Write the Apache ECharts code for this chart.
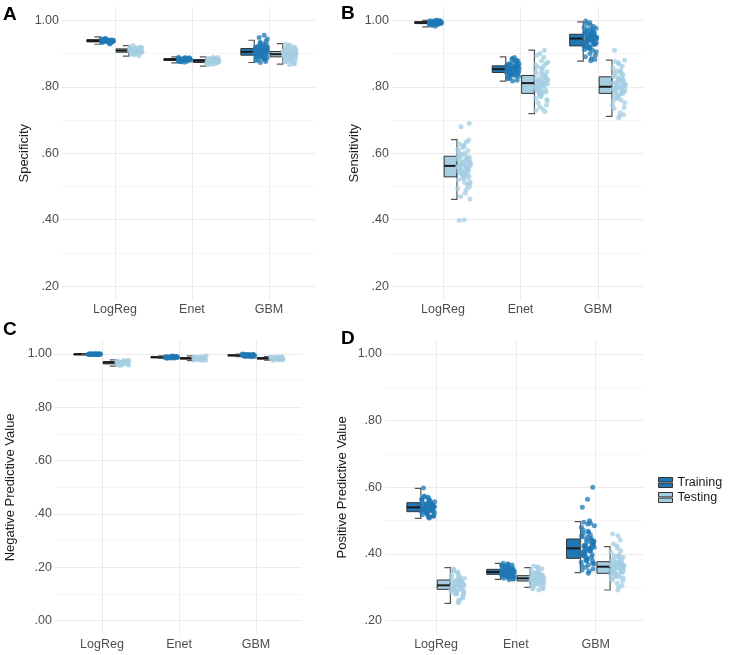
<!DOCTYPE html>
<html>
<head>
<meta charset="utf-8">
<script src="https://cdn.jsdelivr.net/npm/echarts@6/dist/echarts.min.js"></script>
<style>
  html, body { margin: 0; padding: 0; background: #fff; }
  #chart { width: 729px; height: 655px; }
</style>
</head>
<body>
<div id="chart"></div>
<script>
const categories = ['LogReg', 'Enet', 'GBM'];
const groups = ['Training', 'Testing'];

const majorTicks = [0.2, 0.4, 0.6, 0.8, 1.0];
const minorTicks = [0.3, 0.5, 0.7, 0.9];
const majorTicksC = [0, 0.2, 0.4, 0.6, 0.8, 1.0];
const minorTicksC = [0.1, 0.3, 0.5, 0.7, 0.9];

// box stats per model: [lower whisker, q1, median, q3, upper whisker]
const specTrainStats = [[0.928, 0.935, 0.938, 0.942, 0.950], [0.872, 0.879, 0.882, 0.885, 0.890], [0.873, 0.895, 0.905, 0.915, 0.940]];
const specTestStats = [[0.892, 0.904, 0.909, 0.914, 0.924], [0.862, 0.873, 0.878, 0.882, 0.890], [0.868, 0.890, 0.898, 0.906, 0.930]];
const sensTrainStats = [[0.980, 0.990, 0.993, 0.996, 1.000], [0.817, 0.843, 0.853, 0.863, 0.890], [0.877, 0.923, 0.945, 0.958, 0.995]];
const sensTestStats = [[0.461, 0.529, 0.562, 0.591, 0.641], [0.719, 0.780, 0.811, 0.834, 0.910], [0.711, 0.780, 0.800, 0.830, 0.880]];
const npvTrainStats = [[0.998, 0.999, 1.000, 1.000, 1.000], [0.984, 0.986, 0.988, 0.990, 0.993], [0.990, 0.993, 0.995, 0.997, 1.000]];
const npvTestStats = [[0.955, 0.963, 0.968, 0.972, 0.978], [0.975, 0.981, 0.984, 0.987, 0.993], [0.977, 0.981, 0.984, 0.987, 0.990]];
const ppvTrainStats = [[0.507, 0.527, 0.540, 0.554, 0.597], [0.324, 0.339, 0.346, 0.354, 0.372], [0.344, 0.387, 0.417, 0.445, 0.497]];
const ppvTestStats = [[0.252, 0.294, 0.306, 0.322, 0.359], [0.300, 0.319, 0.327, 0.335, 0.359], [0.292, 0.342, 0.362, 0.377, 0.422]];

// resampled values (points), per model
const specTrainPts = [
  [0.936,0.939,0.941,0.937,0.934,0.940,0.943,0.938,0.935,0.942,0.939,0.936,0.944,0.933,0.940,0.937,0.941,0.938,0.931,0.946,0.939,0.936,0.942,0.935,0.940,0.938,0.929,0.943,0.937,0.941,0.934,0.939],
  [0.882,0.879,0.884,0.881,0.886,0.877,0.883,0.880,0.888,0.875,0.882,0.885,0.878,0.883,0.880,0.887,0.874,0.881,0.884,0.879,0.882,0.886,0.876,0.883,0.880,0.889,0.881,0.878,0.884,0.882],
  [0.905,0.898,0.912,0.893,0.918,0.902,0.908,0.887,0.922,0.900,0.910,0.896,0.915,0.904,0.881,0.927,0.906,0.899,0.913,0.891,0.919,0.903,0.909,0.876,0.931,0.897,0.911,0.901,0.916,0.894,0.907,0.884,0.924,0.902,0.913,0.899,0.937,0.906,0.889,0.955,0.948,0.944,0.908,0.896,0.917,0.873,0.903,0.910,
   0.904,0.899,0.911,0.893,0.917,0.901,0.907,0.886,0.921,0.897,0.912,0.879,0.928,0.903,0.909,0.890,0.919,0.882,0.934,0.900]
];
const specTestPts = [
  [0.909,0.905,0.912,0.899,0.915,0.908,0.903,0.918,0.910,0.906,0.913,0.896,0.921,0.907,0.911,0.902,0.916,0.909,0.893,0.914,0.906,0.910,0.900,0.919,0.908,0.912,0.904,0.924,0.907,0.911,0.898,0.914,0.905,0.909,0.917,0.902],
  [0.878,0.873,0.881,0.876,0.884,0.870,0.879,0.875,0.886,0.867,0.877,0.882,0.872,0.880,0.875,0.888,0.868,0.878,0.883,0.874,0.879,0.871,0.885,0.876,0.880,0.866,0.877,0.882,0.874,0.889,0.878,0.873],
  [0.898,0.892,0.903,0.887,0.909,0.895,0.900,0.881,0.913,0.894,0.901,0.889,0.906,0.897,0.876,0.918,0.899,0.891,0.904,0.885,0.911,0.896,0.902,0.870,0.923,0.893,0.900,0.888,0.907,0.878,0.929,0.897,0.894,0.905,0.883,0.916,0.899,0.866,0.902,0.891,
   0.897,0.893,0.902,0.886,0.908,0.895,0.899,0.880,0.912,0.891,0.904,0.875,0.920,0.896,0.901,0.884,0.910,0.869,0.926,0.894]
];
const sensTrainPts = [
  [0.993,0.990,0.996,0.992,0.998,0.988,0.994,0.991,1.000,0.985,0.993,0.997,0.989,0.995,0.992,0.999,0.982,0.994,0.991,0.996,0.993,0.987,0.998,0.990,0.995,0.992,1.000,0.986,0.994,0.997],
  [0.853,0.847,0.860,0.840,0.866,0.850,0.856,0.832,0.872,0.845,0.858,0.838,0.863,0.851,0.826,0.878,0.854,0.843,0.861,0.835,0.869,0.849,0.857,0.820,0.883,0.846,0.859,0.841,0.864,0.852,0.829,0.875,0.855,0.844,0.888,0.848,0.862,0.817,0.856,0.850,
   0.852,0.846,0.859,0.839,0.865,0.849,0.857,0.833,0.870,0.844,0.860,0.824,0.880,0.851,0.855,0.842,0.867,0.836,0.885,0.848],
  [0.945,0.930,0.952,0.915,0.962,0.938,0.948,0.905,0.970,0.926,0.956,0.920,0.978,0.942,0.950,0.895,0.985,0.934,0.959,0.918,0.947,0.885,0.990,0.928,0.954,0.912,0.966,0.940,0.944,0.878,0.998,0.932,0.957,0.923,0.974,0.936,0.949,0.900,0.963,0.943,
   0.946,0.933,0.955,0.921,0.964,0.939,0.951,0.910,0.972,0.929,0.958,0.890,0.981,0.941,0.948,0.925,0.968,0.882,0.993,0.937,0.953,0.917,0.976,0.944]
];
const sensTestPts = [
  [0.562,0.548,0.575,0.532,0.590,0.555,0.568,0.515,0.601,0.541,0.580,0.525,0.612,0.558,0.570,0.498,0.625,0.545,0.585,0.535,0.563,0.480,0.598,0.552,0.574,0.520,0.634,0.547,0.588,0.538,0.566,0.505,0.617,0.559,0.579,0.470,0.640,0.544,0.556,0.528,0.595,0.462,0.571,0.550,0.608,0.533,0.582,0.490,0.680,0.690,0.400,0.398,
   0.557,0.543,0.569,0.536,0.586,0.551,0.524,0.603,0.561,0.546,0.577,0.512,0.628,0.539,0.565,0.493,0.593,0.553,0.530,0.620,0.560,0.549,0.573,0.508],
  [0.811,0.795,0.825,0.772,0.840,0.803,0.818,0.758,0.852,0.788,0.830,0.781,0.866,0.807,0.815,0.745,0.878,0.798,0.835,0.776,0.821,0.733,0.860,0.790,0.828,0.765,0.889,0.805,0.845,0.785,0.813,0.725,0.900,0.800,0.838,0.752,0.870,0.793,0.824,0.910,0.780,0.808,
   0.817,0.799,0.832,0.770,0.848,0.806,0.820,0.762,0.856,0.791,0.827,0.740,0.874,0.802,0.812,0.784,0.842,0.729,0.863,0.796,0.819,0.778,0.895,0.809],
  [0.800,0.788,0.815,0.770,0.832,0.795,0.808,0.752,0.845,0.783,0.822,0.775,0.858,0.798,0.812,0.738,0.868,0.790,0.826,0.765,0.805,0.722,0.876,0.785,0.818,0.758,0.840,0.793,0.803,0.712,0.910,0.780,0.828,0.745,0.850,0.797,0.810,0.706,0.835,0.787,
   0.802,0.791,0.819,0.774,0.836,0.799,0.811,0.760,0.848,0.786,0.824,0.735,0.862,0.796,0.807,0.779,0.842,0.716,0.872,0.794,0.814,0.768,0.880,0.801]
];
const npvTrainPts = [
  [1.000,0.999,1.000,0.999,1.000,0.998,1.000,0.999,1.000,1.000,0.999,1.000,0.998,1.000,0.999,1.000,1.000,0.999,1.000,0.999,1.000,0.998,1.000,0.999],
  [0.988,0.986,0.990,0.987,0.991,0.985,0.989,0.987,0.992,0.984,0.988,0.990,0.986,0.989,0.987,0.991,0.985,0.988,0.990,0.986,0.989,0.993,0.987,0.988],
  [0.995,0.993,0.997,0.992,0.998,0.994,0.996,0.991,0.999,0.993,0.996,0.994,1.000,0.995,0.992,0.998,0.994,0.996,0.990,0.997,0.995,0.993,0.999,0.994,0.996,0.995]
];
const npvTestPts = [
  [0.968,0.965,0.971,0.962,0.974,0.966,0.969,0.959,0.976,0.964,0.970,0.961,0.973,0.967,0.957,0.977,0.968,0.963,0.972,0.960,0.975,0.966,0.970,0.964,0.969,0.962,0.972,0.967],
  [0.984,0.981,0.987,0.979,0.989,0.982,0.985,0.977,0.991,0.980,0.986,0.983,0.988,0.976,0.984,0.990,0.982,0.986,0.980,0.985,0.993,0.983,0.987,0.981,0.984,0.978],
  [0.984,0.982,0.986,0.980,0.988,0.983,0.985,0.978,0.989,0.981,0.986,0.983,0.987,0.979,0.985,0.990,0.982,0.984,0.980,0.986,0.983,0.988,0.977,0.985]
];
const ppvTrainPts = [
  [0.540,0.533,0.547,0.528,0.553,0.537,0.543,0.520,0.559,0.531,0.549,0.525,0.564,0.538,0.545,0.513,0.570,0.535,0.551,0.523,0.542,0.508,0.574,0.530,0.546,0.518,0.556,0.539,0.541,0.510,0.598,0.536,0.550,0.527,0.561,0.534,0.544,0.516,
   0.541,0.532,0.548,0.526,0.555,0.536,0.544,0.521,0.562,0.530,0.550,0.514,0.568,0.539,0.546,0.524,0.557,0.511,0.572,0.535],
  [0.346,0.341,0.351,0.336,0.356,0.343,0.348,0.331,0.361,0.339,0.353,0.334,0.366,0.345,0.349,0.326,0.370,0.342,0.355,0.337,0.347,0.323,0.363,0.340,0.352,0.333,0.358,0.344,0.350,0.329,0.372,0.345,
   0.347,0.340,0.352,0.335,0.357,0.342,0.349,0.330,0.362,0.338,0.354,0.327,0.367,0.344,0.350,0.336,0.359,0.325,0.369,0.343],
  [0.417,0.400,0.430,0.385,0.452,0.410,0.425,0.370,0.465,0.395,0.440,0.378,0.480,0.412,0.422,0.355,0.490,0.405,0.447,0.382,0.420,0.348,0.495,0.398,0.435,0.365,0.458,0.414,0.428,0.342,0.472,0.390,0.443,0.375,0.500,0.408,0.600,0.564,0.540,0.418,0.392,0.438,
   0.415,0.402,0.432,0.388,0.455,0.409,0.427,0.372,0.468,0.396,0.442,0.360,0.485,0.411,0.424,0.380,0.450,0.352,0.492,0.404,0.437,0.368,0.462,0.420]
];
const ppvTestPts = [
  [0.306,0.298,0.313,0.290,0.320,0.302,0.309,0.283,0.329,0.295,0.316,0.287,0.338,0.304,0.311,0.272,0.346,0.300,0.318,0.279,0.307,0.262,0.352,0.297,0.314,0.285,0.325,0.303,0.308,0.254,0.356,0.299,0.321,0.292,0.334,0.305,0.268,0.310,
   0.305,0.297,0.312,0.289,0.322,0.301,0.308,0.281,0.331,0.294,0.317,0.276,0.341,0.303,0.309,0.286,0.327,0.258,0.349,0.300],
  [0.327,0.321,0.332,0.314,0.338,0.324,0.329,0.307,0.345,0.319,0.334,0.311,0.352,0.325,0.330,0.298,0.360,0.322,0.336,0.309,0.328,0.292,0.364,0.318,0.333,0.304,0.341,0.326,0.316,0.348,0.295,0.331,
   0.326,0.320,0.331,0.313,0.337,0.323,0.328,0.306,0.344,0.317,0.335,0.300,0.356,0.324,0.330,0.310,0.342,0.296,0.361,0.322],
  [0.362,0.352,0.370,0.340,0.380,0.356,0.366,0.328,0.392,0.348,0.374,0.335,0.405,0.359,0.368,0.318,0.418,0.354,0.377,0.332,0.364,0.300,0.430,0.346,0.372,0.325,0.388,0.358,0.361,0.292,0.460,0.350,0.376,0.338,0.398,0.357,0.345,0.312,0.369,0.442,
   0.360,0.353,0.372,0.342,0.383,0.357,0.367,0.330,0.395,0.349,0.375,0.322,0.410,0.358,0.365,0.337,0.385,0.305,0.425,0.351,0.371,0.344,0.390,0.455]
];

const colors = { Training: '#1f78b4', Testing: '#a6cee3' };
const font = 'Liberation Sans';

const panels = [
  { letter: 'A', title: 'Specificity', stats: [specTrainStats, specTestStats], pts: [specTrainPts, specTestPts],
    major: majorTicks, minor: minorTicks, yMin: 0.16, yMax: 1.04,
    left: 62, width: 253, top: 7, height: 292.5, xMin: 0.312, xMax: 3.598, nameGap: 30, lx: 3, ly: 5 },
  { letter: 'B', title: 'Sensitivity', stats: [sensTrainStats, sensTestStats], pts: [sensTrainPts, sensTestPts],
    major: majorTicks, minor: minorTicks, yMin: 0.16, yMax: 1.04,
    left: 392, width: 251, top: 7, height: 292.5, xMin: 0.342, xMax: 3.581, nameGap: 30, lx: 341, ly: 4 },
  { letter: 'C', title: 'Negative Predictive Value', stats: [npvTrainStats, npvTestStats], pts: [npvTrainPts, npvTestPts],
    major: majorTicksC, minor: minorTicksC, yMin: -0.05, yMax: 1.05,
    left: 55, width: 247, top: 340.7, height: 293.3, xMin: 0.39, xMax: 3.597, nameGap: 38, lx: 3, ly: 320 },
  { letter: 'D', title: 'Positive Predictive Value', stats: [ppvTrainStats, ppvTestStats], pts: [ppvTrainPts, ppvTestPts],
    major: majorTicks, minor: minorTicks, yMin: 0.16, yMax: 1.04,
    left: 385, width: 258, top: 340.7, height: 293.3, xMin: 0.361, xMax: 3.592, nameGap: 36, lx: 341, ly: 329 }
];

// horizontal placement of each group relative to the model position (axis units)
const boxSpan = [[-0.365, -0.19], [0.015, 0.18]];
const ptsSpan = [[-0.185, -0.015], [0.185, 0.355]];

function jit(i) {
  return ((i + 1) * 0.6180339887) % 1;
}

function boxRenderer(g) {
  return function (params, api) {
    const c = api.value(0);
    const x0 = c + boxSpan[g][0], x1 = c + boxSpan[g][1];
    const lo = api.coord([x1, api.value(1)]);
    const q1 = api.coord([x0, api.value(2)]);
    const m0 = api.coord([x0, api.value(3)]);
    const m1 = api.coord([x1, api.value(3)]);
    const q3 = api.coord([x1, api.value(4)]);
    const hi = api.coord([x1, api.value(5)]);
    const cap = 6;
    return {
      type: 'group',
      children: [
        { type: 'rect', shape: { x: q1[0], y: q3[1], width: q3[0] - q1[0], height: Math.max(q1[1] - q3[1], 1) },
          style: { fill: colors[groups[g]], stroke: '#333', lineWidth: 1 } },
        { type: 'line', shape: { x1: m0[0], y1: m0[1], x2: m1[0], y2: m1[1] },
          style: { stroke: '#1a1a1a', lineWidth: 2 } },
        { type: 'polyline', shape: { points: [[hi[0] - cap, hi[1]], [hi[0], hi[1]], [lo[0], lo[1]], [lo[0] - cap, lo[1]]] },
          style: { stroke: '#555', lineWidth: 1.2, fill: null } }
      ]
    };
  };
}

const fmt = v => v.toFixed(2).replace(/^0/, '').replace(/^-0/, '');

const grid = [], xAxis = [], yAxis = [], series = [], graphic = [];
panels.forEach((p, k) => {
  grid.push({ left: p.left, width: p.width, top: p.top, height: p.height });
  xAxis.push({
    type: 'value', gridIndex: k, min: p.xMin, max: p.xMax,
    axisLine: { show: false },
    axisTick: { show: false, customValues: [1, 2, 3] },
    axisLabel: { customValues: [1, 2, 3], formatter: v => categories[Math.round(v) - 1], margin: 4,
      fontFamily: font, fontSize: 12.5, color: '#4d4d4d' },
    splitLine: { show: true, lineStyle: { color: '#ebebeb', width: 1 } }
  });
  yAxis.push({
    type: 'value', gridIndex: k, min: p.yMin, max: p.yMax,
    name: p.title, nameLocation: 'middle', nameGap: p.nameGap,
    nameTextStyle: { fontFamily: font, fontSize: 13, color: '#1a1a1a' },
    axisLine: { show: false },
    axisTick: { show: false, customValues: p.major },
    axisLabel: { customValues: p.major, formatter: fmt, margin: 3, fontFamily: font, fontSize: 12.5, color: '#4d4d4d' },
    splitLine: { show: true, lineStyle: { color: '#ebebeb', width: 1 } }
  });
  yAxis.push({
    type: 'value', gridIndex: k, min: p.yMin, max: p.yMax,
    axisLine: { show: false },
    axisTick: { show: false, customValues: p.minor },
    axisLabel: { show: false, customValues: p.minor },
    splitLine: { show: true, lineStyle: { color: '#f2f2f2', width: 0.8 } }
  });
  groups.forEach((name, g) => {
    series.push({
      name: name, type: 'custom', xAxisIndex: k, yAxisIndex: 2 * k,
      renderItem: boxRenderer(g),
      itemStyle: { color: colors[name] },
      encode: { x: 0, y: [1, 2, 3, 4, 5] },
      data: p.stats[g].map((s, i) => [i + 1].concat(s)),
      z: 2
    });
    const data = [];
    p.pts[g].forEach((vals, i) => {
      vals.forEach((v, j) => {
        data.push([i + 1 + ptsSpan[g][0] + jit(j) * (ptsSpan[g][1] - ptsSpan[g][0]), v]);
      });
    });
    series.push({
      name: name, type: 'scatter', xAxisIndex: k, yAxisIndex: 2 * k,
      symbolSize: 5, itemStyle: { color: colors[name], opacity: 0.75 },
      data: data, z: 3
    });
  });
  graphic.push({ type: 'text', left: p.lx, top: p.ly,
    style: { text: p.letter, font: 'bold 19px "Liberation Sans"', fill: '#000' } });
});

const legendIcon = 'path://M0,0H14V4.4H0Z M0,5.6H14V10H0Z';
const chart = echarts.init(document.getElementById('chart'));
chart.setOption({
  animation: false,
  backgroundColor: '#fff',
  grid: grid,
  xAxis: xAxis,
  yAxis: yAxis,
  series: series,
  graphic: graphic,
  legend: {
    orient: 'vertical', left: 653, top: 471,
    itemWidth: 14, itemHeight: 10, itemGap: 2,
    textStyle: { fontFamily: font, fontSize: 12.5, color: '#1a1a1a' },
    data: [
      { name: 'Training', icon: legendIcon, itemStyle: { color: colors.Training, borderColor: '#333', borderWidth: 1 } },
      { name: 'Testing', icon: legendIcon, itemStyle: { color: colors.Testing, borderColor: '#333', borderWidth: 1 } }
    ]
  }
});
</script>
</body>
</html>
